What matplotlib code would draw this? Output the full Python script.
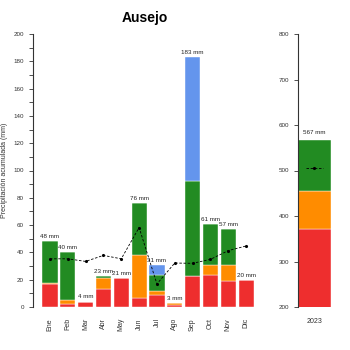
import matplotlib.pyplot as plt
import numpy as np

plt.rcParams['font.family'] = ['Liberation Sans', 'DejaVu Sans']

meses = ['Ene', 'Feb', 'Mar', 'Abr', 'May', 'Jun', 'Jul', 'Ago', 'Sep', 'Oct', 'Nov', 'Dic']
# capas apiladas por mes (mm)
rojo = [16.7, 2, 4, 13.3, 21, 6.9, 9, 1.7, 22.7, 23.4, 19.3, 20]
naranja = [1, 2.9, 0, 7.6, 0, 31.1, 2.8, 1.3, 0, 7.1, 11.2, 0]
verde = [30.3, 35.1, 0, 2.1, 0, 38, 11.8, 0, 69.3, 30.5, 26.5, 0]
azul = [0, 0, 0, 0, 0, 0, 7.4, 0, 91, 0, 0, 0]
totales = [48, 40, 4, 23, 21, 76, 31, 3, 183, 61, 57, 20]
media = [35.3, 35.3, 33.4, 37.8, 35.3, 58.2, 16.9, 32.2, 32, 34.9, 41.3, 44.7]

anio = ['2023']
anual_rojo = [371]
anual_naranja = [84]
anual_verde = [112]
anual_total = [567]
anual_media = [505]

c_rojo = '#EE2E2E'
c_naranja = '#FF8C00'
c_verde = '#228B22'
c_azul = '#6495ED'
gris = '#333333'

fig = plt.figure(figsize=(3.5, 3.5), dpi=100)
ax = fig.add_axes([33 / 350, 43 / 350, 222 / 350, 273 / 350])
ax2 = fig.add_axes([298 / 350, 43 / 350, 36 / 350, 273 / 350])

x = np.arange(len(meses))
ancho = 0.85
base = np.zeros(len(meses))
for vals, col in [(rojo, c_rojo), (naranja, c_naranja), (verde, c_verde), (azul, c_azul)]:
    ax.bar(x, vals, ancho, bottom=base, color=col, edgecolor='white', linewidth=0.3)
    base += np.array(vals)

for xi, t in zip(x, totales):
    ax.text(xi, t + 1.5, f'{t} mm', ha='center', va='bottom', fontsize=4.5, color='#222222')

ax.plot(x, media, ls=(0, (3, 2)), color='black', lw=0.6, marker='.', ms=2.5)

ax.set_xlim(-0.95, 11.5)
ax.set_ylim(0, 200)
ax.set_yticks(np.arange(0, 201, 20))
ax.set_yticks(np.arange(0, 201, 10), minor=True)
ax.set_xticks(x)
ax.set_xticklabels(meses, rotation=90, fontsize=5, color=gris)
ax.tick_params(axis='x', length=0, pad=8)
ax.tick_params(axis='y', labelsize=4.5, labelcolor=gris, length=3, width=0.6, color=gris)
ax.tick_params(axis='y', which='minor', length=3, width=0.6, color=gris)
for s in ['top', 'right', 'bottom']:
    ax.spines[s].set_visible(False)
ax.spines['left'].set_color(gris)
ax.spines['left'].set_linewidth(0.8)
ax.set_ylabel('Precipitación acumulada (mm)', fontsize=5, color=gris, labelpad=4)

# barra anual
xa = np.arange(len(anio))
b = np.zeros(1)
for vals, col in [(anual_rojo, c_rojo), (anual_naranja, c_naranja), (anual_verde, c_verde)]:
    ax2.bar(xa, vals, 1.0, bottom=b, color=col, edgecolor='white', linewidth=0.3)
    b += np.array(vals)
ax2.text(0, anual_total[0] + 10, f'{anual_total[0]} mm', ha='center', va='bottom', fontsize=4.5, color='#222222')
ax2.plot([-0.25, 0.25], [anual_media[0]] * 2, ls=(0, (3, 2)), color='black', lw=0.6)
ax2.plot([0], anual_media, marker='.', color='black', ms=2.5)
ax2.set_xlim(-0.5, 0.6)
ax2.set_ylim(200, 800)
ax2.set_yticks(np.arange(200, 801, 100))
ax2.set_xticks(xa)
ax2.set_xticklabels(anio, fontsize=5, color=gris)
ax2.tick_params(axis='x', length=0, pad=8)
ax2.tick_params(axis='y', labelsize=4.5, labelcolor=gris, length=3, width=0.6, color=gris)
for s in ['top', 'right', 'bottom']:
    ax2.spines[s].set_visible(False)
ax2.spines['left'].set_color(gris)
ax2.spines['left'].set_linewidth(0.8)

fig.text(145 / 350, 1 - 18 / 350, 'Ausejo', ha='center', va='center', fontsize=10, fontweight='bold')

fig.savefig('out.png', dpi=100)
